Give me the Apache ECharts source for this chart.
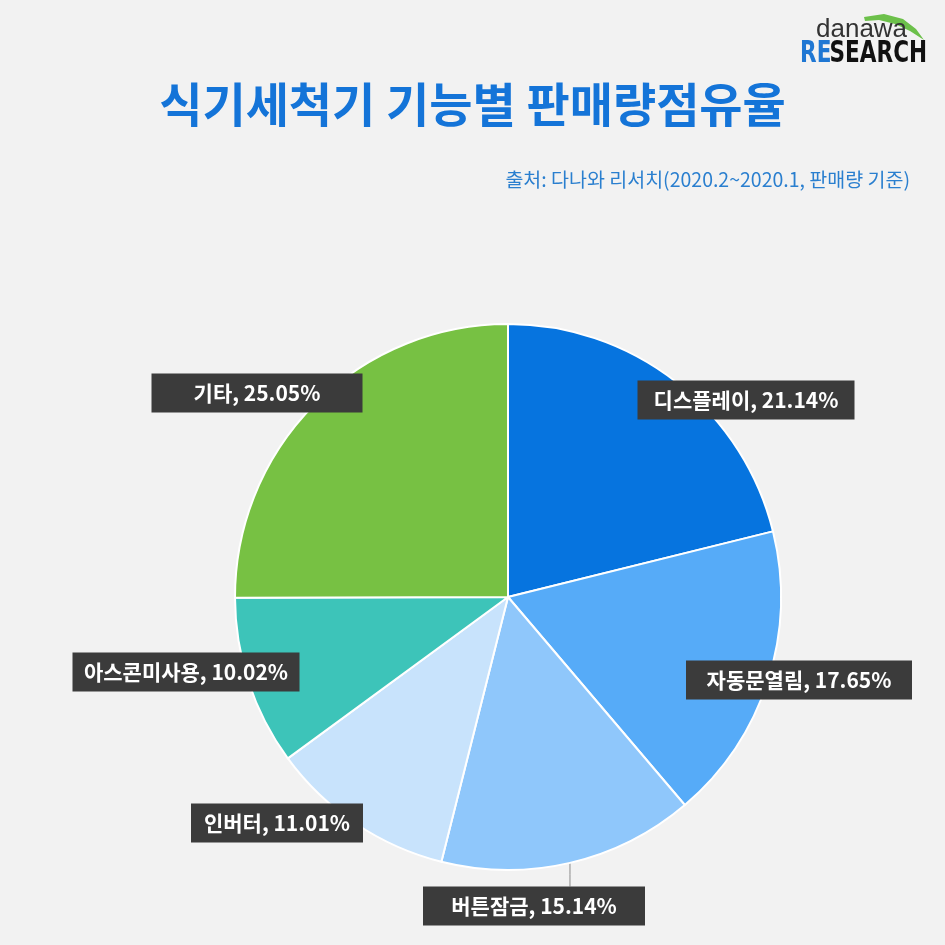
<!DOCTYPE html>
<html><head><meta charset="utf-8">
<script src="https://cdn.jsdelivr.net/npm/echarts@6/dist/echarts.min.js"></script>
<style>html,body{margin:0;padding:0;background:#f2f2f2}#c{width:945px;height:945px}</style>
</head><body><div id="c"></div>
<script>
const categories = ['디스플레이', '자동문열림', '버튼잠금', '인버터', '아스콘미사용', '기타'];
const shares = [21.14, 17.65, 15.14, 11.01, 10.02, 25.05];
const colors = ['#0674df', '#56abf8', '#8fc7fb', '#c8e3fc', '#3dc4b9', '#77c143'];
const titleText = '식기세척기 기능별 판매량점유율';
const sourceText = '출처: 다나와 리서치(2020.2~2020.1, 판매량 기준)';

// label box centres and widths (layout only)
const labelPos = [[746, 400, 217], [799, 680, 226], [534, 906, 222], [277, 823, 172], [186, 672, 227], [257, 393, 211]];
const BOX_H = 39;

const chart = echarts.init(document.getElementById('c'), null, {renderer: 'canvas'});
const FONT = '"Noto Sans CJK KR", "Noto Sans", sans-serif';

const data = categories.map((n, i) => ({
  name: n, value: shares[i],
  itemStyle: {color: colors[i]},
  label: {width: labelPos[i][2] - 20},
  labelLine: {show: i === 2}
}));

chart.setOption({
  backgroundColor: '#f2f2f2',
  animation: false,
  title: [{
    text: titleText, left: 'center', top: 76,
    textStyle: {fontFamily: FONT, fontSize: 47, fontWeight: 'bold', color: '#1474d8'}
  }, {
    text: sourceText, right: 30, top: 165,
    textStyle: {fontFamily: FONT, fontSize: 19.5, fontWeight: 'normal', color: '#2a7fcf'}
  }],
  graphic: [
    {type: 'polygon', shape: {points: [[864, 17], [884, 14], [903, 19], [916, 29], [924, 40], [910, 31], [895, 24], [879, 20], [865, 21]]}, style: {fill: '#6cc04a'}},
    {type: 'text', left: 816, top: 17, style: {text: 'danawa', font: '26px "Liberation Sans", sans-serif', fill: '#333'}},
    {type: 'group', x: 800, y: 39, scaleX: 0.72, children: [
      {type: 'text', x: 0, y: 0, style: {text: 'RE', font: 'bold 30px "DejaVu Sans", sans-serif', fill: '#1f77d3'}},
      {type: 'text', x: 41, y: 0, style: {text: 'SEARCH', font: 'bold 30px "DejaVu Sans", sans-serif', fill: '#111'}}
    ]}
  ],
  series: [{
    type: 'pie',
    center: [508, 597],
    radius: 273,
    startAngle: 90,
    clockwise: true,
    data: data,
    itemStyle: {borderColor: '#ffffff', borderWidth: 2},
    label: {
      show: true, position: 'outside',
      formatter: p => p.name + ', ' + p.value.toFixed(2) + '%',
      fontFamily: FONT, fontSize: 21, fontWeight: 'bold', color: '#ffffff',
      backgroundColor: '#3b3b3b', padding: [9, 10], align: 'center', lineHeight: 21
    },
    labelLine: {lineStyle: {color: '#8a8a8a', width: 1}, length: 10, length2: 10},
    labelLayout: function (params) {
      const p = labelPos[params.dataIndex];
      const out = {x: p[0], y: p[1], align: 'center', verticalAlign: 'middle'};
      const lp = params.labelLinePoints;
      if (lp && lp[0]) {
        const top = p[1] - BOX_H / 2;
        out.labelLinePoints = [[lp[0][0], lp[0][1]], [lp[0][0], (lp[0][1] + top) / 2], [lp[0][0], top]];
      }
      return out;
    }
  }]
});
</script></body></html>
